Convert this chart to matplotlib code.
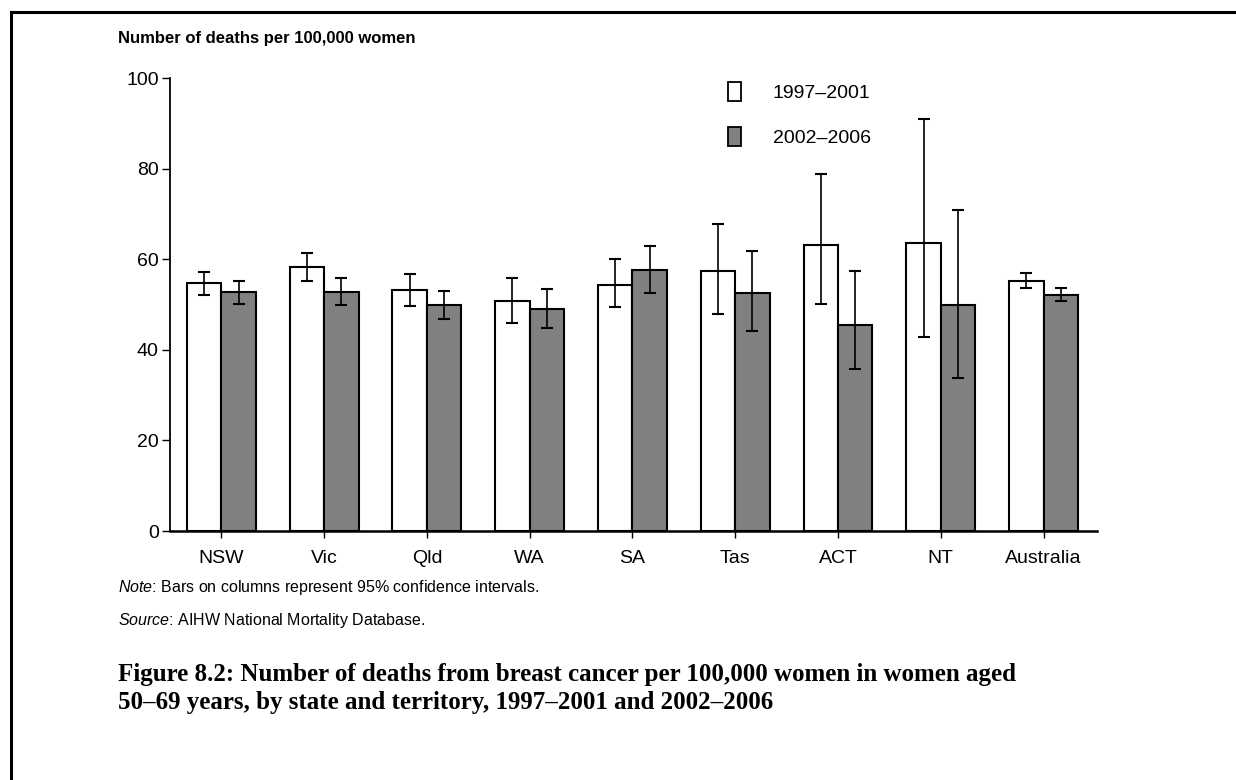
import numpy as np
import matplotlib
matplotlib.use('Agg')
import matplotlib.pyplot as plt
from matplotlib.patches import Patch
from matplotlib.lines import Line2D

plt.rcParams['font.family'] = ['Liberation Sans', 'DejaVu Sans']
plt.rcParams['mathtext.fontset'] = 'custom'
plt.rcParams['mathtext.it'] = 'Liberation Sans:italic'
plt.rcParams['mathtext.rm'] = 'Liberation Sans'

# data
states = ['NSW', 'Vic', 'Qld', 'WA', 'SA', 'Tas', 'ACT', 'NT', 'Australia']
rate_9701 = [54.7, 58.3, 53.2, 50.7, 54.4, 57.3, 63.2, 63.6, 55.3]
low_9701 = [52.0, 55.1, 49.6, 46.0, 49.5, 48.0, 50.1, 42.8, 53.7]
high_9701 = [57.2, 61.4, 56.8, 55.9, 60.0, 67.8, 78.8, 90.9, 57.0]
rate_0206 = [52.8, 52.8, 49.9, 49.0, 57.6, 52.5, 45.5, 49.9, 52.2]
low_0206 = [50.2, 49.9, 46.7, 44.9, 52.6, 44.2, 35.7, 33.7, 50.8]
high_0206 = [55.1, 55.8, 52.9, 53.5, 63.0, 61.9, 57.3, 70.9, 53.6]
series_labels = ['1997\u20132001', '2002\u20132006']

fig = plt.figure(figsize=(12.36, 7.8), dpi=100)
ax = fig.add_axes([0.1375, 0.3192, 0.75, 0.5808])

x = np.arange(len(states))
w = 0.335

def draw(offset, vals, lo, hi, color):
    vals = np.array(vals)
    yerr = np.vstack([vals - np.array(lo), np.array(hi) - vals])
    ax.bar(x + offset, vals, w, color=color, edgecolor='black', linewidth=1.5, zorder=2)
    ax.errorbar(x + offset, vals, yerr=yerr, fmt='none', ecolor='black',
                elinewidth=1.2, capsize=4.5, capthick=1.5, zorder=3)

draw(-w / 2, rate_9701, low_9701, high_9701, 'white')
draw(w / 2, rate_0206, low_0206, high_0206, '#808080')

ax.set_xlim(-0.5, 8.52)
ax.set_ylim(0, 100)
ax.set_yticks([0, 20, 40, 60, 80, 100])
ax.set_xticks(x)
ax.set_xticklabels(states)
ax.spines['right'].set_visible(False)
ax.spines['top'].set_visible(False)
ax.spines['left'].set_linewidth(1.3)
ax.spines['bottom'].set_linewidth(1.8)
ax.tick_params(axis='y', length=6, width=1, labelsize=14, pad=2)
ax.tick_params(axis='x', length=5, width=1, labelsize=14, pad=9)

handles = [Patch(facecolor='white', edgecolor='black', linewidth=1.3),
           Patch(facecolor='#808080', edgecolor='black', linewidth=1.3)]
ax.legend(handles, series_labels, loc='upper left', bbox_to_anchor=(0.581, 0.907),
          bbox_transform=fig.transFigure, frameon=False, fontsize=14,
          handlelength=0.7, handleheight=1.1, handletextpad=1.6, labelspacing=1.3,
          borderpad=0)

fig.text(0.0955, 0.951, 'Number of deaths per 100,000 women', fontsize=12,
         fontweight='bold', va='center')

fig.text(0.0955, 0.247, r'$\it{Note}$: Bars on columns represent 95% confidence intervals.',
         fontsize=11.5, va='center')
fig.text(0.0955, 0.205, r'$\it{Source}$: AIHW National Mortality Database.',
         fontsize=11.5, va='center')

fig.text(0.0955, 0.135, 'Figure 8.2: Number of deaths from breast cancer per 100,000 women in women aged',
         fontsize=18, fontweight='bold', family='Liberation Serif', va='center')
fig.text(0.0955, 0.1, '50\u201369 years, by state and territory, 1997\u20132001 and 2002\u20132006',
         fontsize=18, fontweight='bold', family='Liberation Serif', va='center')

# frame lines round the figure
fig.add_artist(Line2D([0.009, 0.009], [0.0, 0.985], color='black', linewidth=2.2,
                      transform=fig.transFigure))
fig.add_artist(Line2D([0.009, 1.0], [0.985, 0.985], color='black', linewidth=2.2,
                      transform=fig.transFigure))

fig.savefig('out.png', dpi=100)
